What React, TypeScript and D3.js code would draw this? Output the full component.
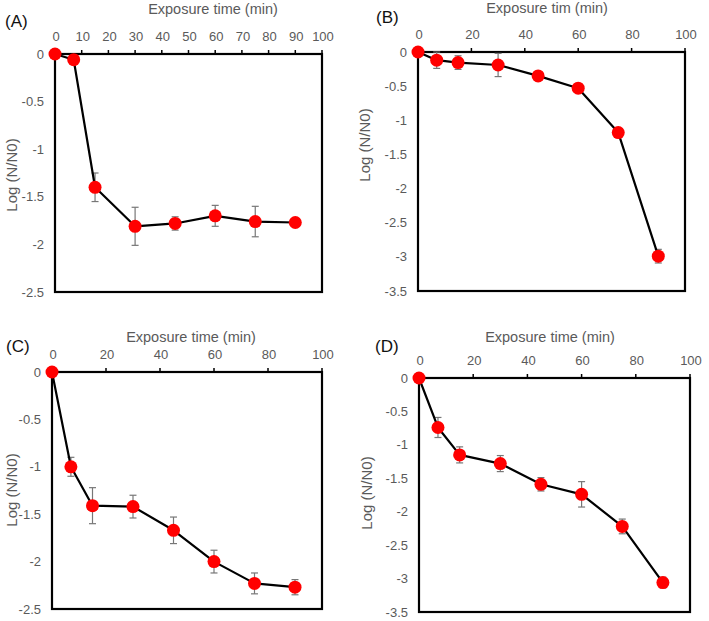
import React from "react";
import * as d3 from "d3";

// ---- data ----
const timesA = [0, 7, 15, 30, 45, 60, 75, 90];
const valuesA = [0, -0.06, -1.4, -1.81, -1.78, -1.7, -1.76, -1.77];
const errorsA = [0.03, 0.02, 0.15, 0.2, 0.07, 0.11, 0.16, 0.02];

const timesB = [0, 7, 15, 30, 45, 60, 75, 90];
const valuesB = [0, -0.12, -0.155, -0.19, -0.35, -0.53, -1.18, -2.99];
const errorsB = [0.02, 0.12, 0.1, 0.17, 0.03, 0.03, 0.06, 0.1];

const timesC = [0, 7, 15, 30, 45, 60, 75, 90];
const valuesC = [0, -1.0, -1.41, -1.42, -1.67, -2.0, -2.23, -2.27];
const errorsC = [0.02, 0.1, 0.19, 0.12, 0.14, 0.12, 0.11, 0.08];

const timesD = [0, 7, 15, 30, 45, 60, 75, 90];
const valuesD = [0, -0.74, -1.15, -1.28, -1.59, -1.74, -2.22, -3.06];
const errorsD = [0.02, 0.15, 0.12, 0.12, 0.1, 0.19, 0.11, 0.08];

const xTicksA = [0, 10, 20, 30, 40, 50, 60, 70, 80, 90, 100];
const xTicksOther = [0, 20, 40, 60, 80, 100];
const yTicks25 = [0, -0.5, -1, -1.5, -2, -2.5];
const yTicks35 = [0, -0.5, -1, -1.5, -2, -2.5, -3, -3.5];

const panelLabels = ["(A)", "(B)", "(C)", "(D)"];
const xTitles = ["Exposure time (min)", "Exposure tim (min)", "Exposure time (min)", "Exposure time (min)"];
const yTitle = "Log (N/N0)";

const FONT = "'Liberation Sans', Arial, Helvetica, sans-serif";
const GRAY = "#5a5a5a";

type PanelProps = {
  times: number[];
  values: number[];
  errors: number[];
  xTicks: number[];
  yTicks: number[];
  yMin: number;
  box: { l: number; r: number; t: number; b: number };
  label: string;
  labelPos: [number, number];
  xTitle: string;
  xTitlePos: [number, number];
  yTitlePos: [number, number];
};

function Panel(p: PanelProps) {
  const x = d3.scaleLinear().domain([0, 100]).range([p.box.l, p.box.r]);
  const y = d3.scaleLinear().domain([p.yMin, 0]).range([p.box.b, p.box.t]);
  const pts = p.times.map((t, i) => ({ t, v: p.values[i], e: p.errors[i] }));
  const line = d3
    .line<{ t: number; v: number }>()
    .x((d) => x(d.t))
    .y((d) => y(d.v));
  const fmt = (v: number) => (v === 0 ? "0" : String(v));
  return (
    <g>
      <text x={p.labelPos[0]} y={p.labelPos[1]} fontSize={17} fill="#111" fontFamily={FONT}>
        {p.label}
      </text>
      <text
        x={p.xTitlePos[0]}
        y={p.xTitlePos[1]}
        fontSize={14.5}
        fill={GRAY}
        textAnchor="middle"
        fontFamily={FONT}
      >
        {p.xTitle}
      </text>
      <text
        transform={`translate(${p.yTitlePos[0]},${p.yTitlePos[1]}) rotate(-90)`}
        fontSize={15}
        fill={GRAY}
        textAnchor="middle"
        dominantBaseline="central"
        fontFamily={FONT}
      >
        {yTitle}
      </text>
      {p.xTicks.map((t) => (
        <g key={"xt" + t}>
          <line x1={x(t)} x2={x(t)} y1={p.box.t} y2={p.box.t - 4} stroke="#000" strokeWidth={1.5} />
          <text
            x={x(t) + 1}
            y={p.box.t - 13}
            fontSize={13}
            fill={GRAY}
            textAnchor="middle"
            fontFamily={FONT}
          >
            {t}
          </text>
        </g>
      ))}
      {p.yTicks.map((v) => (
        <text
          key={"yt" + v}
          x={p.box.l - 11}
          y={y(v)}
          fontSize={13}
          fill={GRAY}
          textAnchor="end"
          dominantBaseline="central"
          fontFamily={FONT}
        >
          {fmt(v)}
        </text>
      ))}
      <rect
        x={p.box.l}
        y={p.box.t}
        width={p.box.r - p.box.l}
        height={p.box.b - p.box.t}
        fill="none"
        stroke="#000"
        strokeWidth={2.2}
      />
      {pts.map((d, i) => (
        <g key={"eb" + i} stroke="#777" strokeWidth={1.2}>
          <line x1={x(d.t)} x2={x(d.t)} y1={y(d.v + d.e)} y2={y(d.v - d.e)} />
          <line x1={x(d.t) - 3.5} x2={x(d.t) + 3.5} y1={y(d.v + d.e)} y2={y(d.v + d.e)} />
          <line x1={x(d.t) - 3.5} x2={x(d.t) + 3.5} y1={y(d.v - d.e)} y2={y(d.v - d.e)} />
        </g>
      ))}
      <path d={line(pts) || ""} fill="none" stroke="#000" strokeWidth={2.2} strokeLinejoin="round" />
      {pts.map((d, i) => (
        <circle key={"pt" + i} cx={x(d.t)} cy={y(d.v)} r={6.5} fill="#ff0000" />
      ))}
    </g>
  );
}

export default function App() {
  return (
    <svg width={709} height={621} style={{ display: "block", position: "absolute", left: 0, top: 0 }}>
      <rect width={709} height={621} fill="#fff" />
      <Panel
        times={timesA}
        values={valuesA}
        errors={errorsA}
        xTicks={xTicksA}
        yTicks={yTicks25}
        yMin={-2.5}
        box={{ l: 55, r: 322, t: 54, b: 292 }}
        label={panelLabels[0]}
        labelPos={[5, 27]}
        xTitle={xTitles[0]}
        xTitlePos={[213, 14]}
        yTitlePos={[11, 175]}
      />
      <Panel
        times={timesB}
        values={valuesB}
        errors={errorsB}
        xTicks={xTicksOther}
        yTicks={yTicks35}
        yMin={-3.5}
        box={{ l: 418, r: 685, t: 52, b: 291 }}
        label={panelLabels[1]}
        labelPos={[376, 23]}
        xTitle={xTitles[1]}
        xTitlePos={[547, 12.5]}
        yTitlePos={[364, 145]}
      />
      <Panel
        times={timesC}
        values={valuesC}
        errors={errorsC}
        xTicks={xTicksOther}
        yTicks={yTicks25}
        yMin={-2.5}
        box={{ l: 52, r: 322, t: 372, b: 609 }}
        label={panelLabels[2]}
        labelPos={[6, 352]}
        xTitle={xTitles[2]}
        xTitlePos={[191, 342]}
        yTitlePos={[11, 490]}
      />
      <Panel
        times={timesD}
        values={valuesD}
        errors={errorsD}
        xTicks={xTicksOther}
        yTicks={yTicks35}
        yMin={-3.5}
        box={{ l: 419, r: 690, t: 378, b: 612 }}
        label={panelLabels[3]}
        labelPos={[375, 352]}
        xTitle={xTitles[3]}
        xTitlePos={[550, 342]}
        yTitlePos={[366, 493]}
      />
    </svg>
  );
}
